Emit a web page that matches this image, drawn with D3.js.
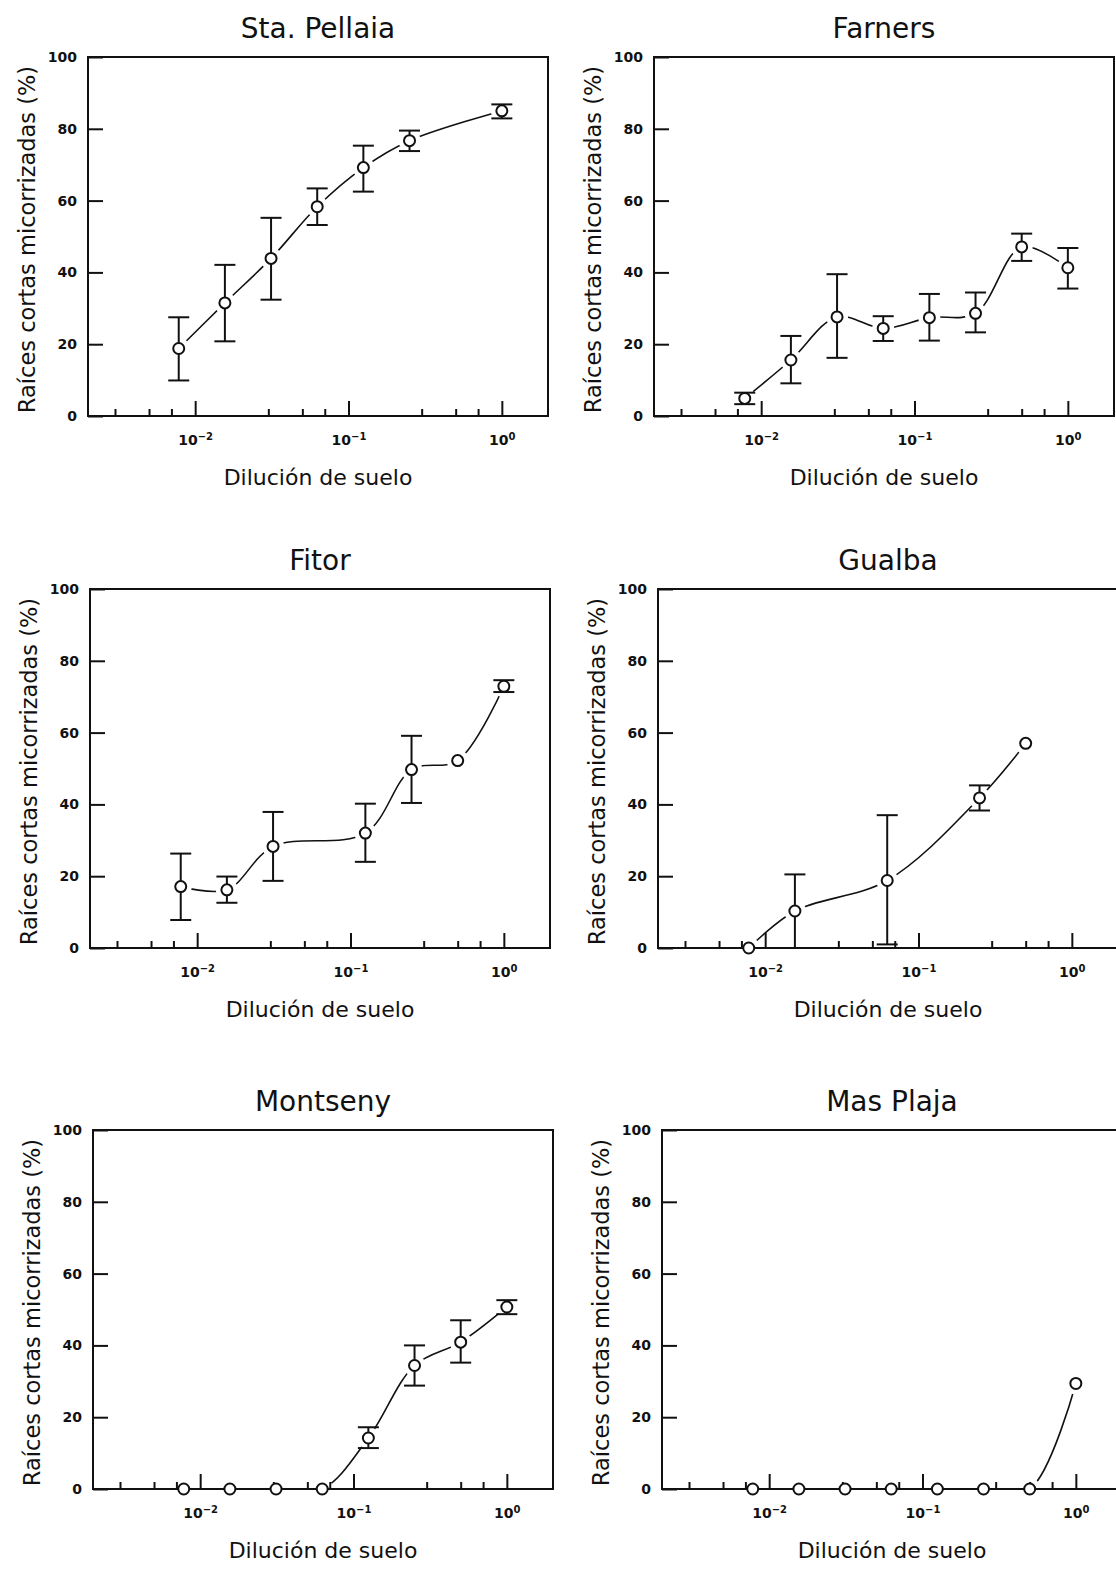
<!DOCTYPE html>
<html>
<head>
<meta charset="utf-8">
<script src="https://cdn.jsdelivr.net/npm/d3@7"></script>
<style>
  body { margin: 0; background: #fff; }
  svg text { fill: #111; }
</style>
</head>
<body>
<div id="chart"></div>
<script>
// Dilution series (fraction of soil), same for every site
const dilutions = [1/128, 1/64, 1/32, 1/16, 1/8, 1/4, 1/2, 1];

const siteNames = ["Sta. Pellaia", "Farners", "Fitor", "Gualba", "Montseny", "Mas Plaja"];

// % short roots mycorrhized, null = not measured
const pellaiaMean = [18.8, 31.5, 43.9, 58.3, 69.2, 76.7, null, 85.0];
const pellaiaLow  = [9.9, 20.8, 32.4, 53.2, 62.5, 73.8, null, 82.9];
const pellaiaHigh = [27.5, 42.1, 55.2, 63.4, 75.3, 79.5, null, 86.8];

const farnersMean = [4.9, 15.6, 27.6, 24.4, 27.4, 28.6, 47.1, 41.3];
const farnersLow  = [3.3, 9.1, 16.2, 20.9, 21.0, 23.3, 43.2, 35.5];
const farnersHigh = [6.5, 22.3, 39.5, 27.8, 34.0, 34.4, 50.8, 46.8];

const fitorMean = [17.1, 16.2, 28.3, null, 32.0, 49.7, 52.2, 72.9];
const fitorLow  = [7.8, 12.6, 18.7, null, 24.0, 40.4, null, 71.3];
const fitorHigh = [26.3, 19.9, 37.9, null, 40.2, 59.1, null, 74.6];

const gualbaMean = [0, 10.3, null, 18.8, null, 41.8, 57.0, null];
const gualbaLow  = [null, 0, null, 1.0, null, 38.3, null, null];
const gualbaHigh = [null, 20.5, null, 37.0, null, 45.3, null, null];

const montsenyMean = [0, 0, 0, 0, 14.2, 34.4, 40.9, 50.7];
const montsenyLow  = [null, null, null, null, 11.4, 28.8, 35.2, 48.7];
const montsenyHigh = [null, null, null, null, 17.2, 40.0, 47.0, 52.6];

const masPlajaMean = [0, 0, 0, 0, 0, 0, 0, 29.4];
const masPlajaLow  = [null, null, null, null, null, null, null, null];
const masPlajaHigh = [null, null, null, null, null, null, null, null];

const yTicks = [0, 20, 40, 60, 80, 100];
const xMajor = [0.01, 0.1, 1];
const xMajorExp = ["\u22122", "\u22121", "0"];
const xMinor = [0.003, 0.005, 0.007, 0.03, 0.05, 0.07, 0.3, 0.5, 0.7];

const yLabel = "Raíces cortas micorrizadas (%)";
const xLabel = "Dilución de suelo";

// group arrays per site
const means = [pellaiaMean, farnersMean, fitorMean, gualbaMean, montsenyMean, masPlajaMean];
const lows = [pellaiaLow, farnersLow, fitorLow, gualbaLow, montsenyLow, masPlajaLow];
const highs = [pellaiaHigh, farnersHigh, fitorHigh, gualbaHigh, montsenyHigh, masPlajaHigh];

// panel placement (box top-left corners)
const boxes = [
  {left: 88, top: 57}, {left: 654, top: 57},
  {left: 90, top: 589}, {left: 658, top: 589},
  {left: 93, top: 1130}, {left: 662, top: 1130}
];

const width = 1116, height = 1571;
const plotW = 460, plotH = 359;
const font = "'DejaVu Sans', sans-serif";

const svg = d3.select("#chart").append("svg")
    .attr("width", width)
    .attr("height", height)
    .attr("viewBox", [0, 0, width, height])
    .style("font-family", font);

const x = d3.scaleLog().domain([0.002, 2]).range([0, plotW]);
const y = d3.scaleLinear().domain([0, 100]).range([plotH, 0]);

const line = d3.line()
    .x(d => x(d.x))
    .y(d => y(d.v))
    .curve(d3.curveCatmullRom.alpha(0.5));

siteNames.forEach((name, i) => {
  const b = boxes[i];
  const pts = dilutions.map((d, j) => ({x: d, v: means[i][j], lo: lows[i][j], hi: highs[i][j]}))
      .filter(p => p.v != null);

  const g = svg.append("g").attr("transform", `translate(${b.left},${b.top})`);

  // clip + mask so the curve stops short of each marker
  const defs = g.append("defs");
  defs.append("clipPath").attr("id", "clip" + i)
    .append("rect").attr("width", plotW).attr("height", plotH);
  const mask = defs.append("mask").attr("id", "gap" + i).attr("maskUnits", "userSpaceOnUse")
      .attr("x", -20).attr("y", -20).attr("width", plotW + 40).attr("height", plotH + 40);
  mask.append("rect").attr("x", -20).attr("y", -20)
      .attr("width", plotW + 40).attr("height", plotH + 40).attr("fill", "#fff");
  mask.selectAll("circle").data(pts).join("circle")
      .attr("cx", d => x(d.x)).attr("cy", d => y(d.v)).attr("r", 11).attr("fill", "#000");

  // title
  g.append("text")
      .attr("x", plotW / 2).attr("y", -27)
      .attr("text-anchor", "middle").attr("dominant-baseline", "middle")
      .style("font-size", "28px")
      .text(name);

  // y axis
  const yAxis = g.append("g")
      .call(d3.axisLeft(y).tickValues(yTicks).tickSize(-15).tickPadding(11));
  yAxis.select(".domain").remove();
  yAxis.selectAll("line").attr("stroke", "#111").attr("stroke-width", 2);
  yAxis.selectAll("text").style("font-size", "14px").style("font-weight", "bold")
      .style("font-family", font);

  // x axis: minor ticks
  const xMin = g.append("g").attr("transform", `translate(0,${plotH})`)
      .call(d3.axisBottom(x).tickValues(xMinor).tickSize(-7).tickFormat(""));
  xMin.select(".domain").remove();
  xMin.selectAll("line").attr("stroke", "#111").attr("stroke-width", 2);

  // x axis: decades
  const xMaj = g.append("g").attr("transform", `translate(0,${plotH})`)
      .call(d3.axisBottom(x).tickValues(xMajor).tickSize(-15).tickPadding(19).tickFormat(() => ""));
  xMaj.select(".domain").remove();
  xMaj.selectAll("line").attr("stroke", "#111").attr("stroke-width", 2);
  xMaj.selectAll("text")
      .style("font-size", "14px").style("font-weight", "bold").style("font-family", font)
      .each(function(d, k) {
        const t = d3.select(this);
        t.append("tspan").text("10");
        t.append("tspan").attr("dy", "-0.5em").style("font-size", "10px").text(xMajorExp[k]);
      });

  // frame
  g.append("rect")
      .attr("width", plotW).attr("height", plotH)
      .attr("fill", "none").attr("stroke", "#111").attr("stroke-width", 2);

  // axis titles
  g.append("text")
      .attr("transform", `translate(-60,${plotH / 2 + 3}) rotate(-90)`)
      .attr("text-anchor", "middle").attr("dominant-baseline", "middle")
      .style("font-size", "22.5px")
      .text(yLabel);
  g.append("text")
      .attr("x", plotW / 2).attr("y", plotH + 63)
      .attr("text-anchor", "middle").attr("dominant-baseline", "middle")
      .style("font-size", "22px")
      .text(xLabel);

  // fitted curve
  g.append("g").attr("clip-path", `url(#clip${i})`)
    .append("path")
      .datum(pts)
      .attr("mask", `url(#gap${i})`)
      .attr("fill", "none").attr("stroke", "#111").attr("stroke-width", 1.6)
      .attr("d", line);

  // error bars
  const eb = pts.filter(p => p.lo != null);
  const bars = g.append("g").attr("stroke", "#111").attr("stroke-width", 2);
  bars.selectAll("line.v").data(eb).join("line").attr("class", "v")
      .attr("x1", d => x(d.x)).attr("x2", d => x(d.x))
      .attr("y1", d => y(d.lo)).attr("y2", d => y(d.hi));
  bars.selectAll("line.hi").data(eb).join("line").attr("class", "hi")
      .attr("x1", d => x(d.x) - 10.5).attr("x2", d => x(d.x) + 10.5)
      .attr("y1", d => y(d.hi)).attr("y2", d => y(d.hi));
  bars.selectAll("line.lo").data(eb).join("line").attr("class", "lo")
      .attr("x1", d => x(d.x) - 10.5).attr("x2", d => x(d.x) + 10.5)
      .attr("y1", d => y(d.lo)).attr("y2", d => y(d.lo));

  // markers
  g.append("g").selectAll("circle").data(pts).join("circle")
      .attr("cx", d => x(d.x)).attr("cy", d => y(d.v))
      .attr("r", 5.5)
      .attr("fill", "#fff").attr("stroke", "#111").attr("stroke-width", 2);
});
</script>
</body>
</html>
